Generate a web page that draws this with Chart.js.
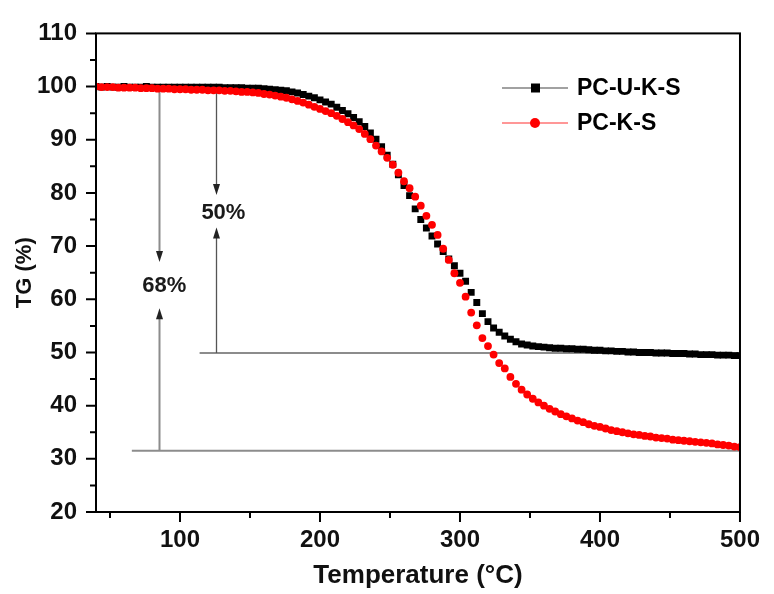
<!DOCTYPE html>
<html>
<head>
<meta charset="utf-8">
<script src="https://cdn.jsdelivr.net/npm/chart.js@4.4.1/dist/chart.umd.min.js"></script>
<style>
html,body{margin:0;padding:0;background:#fff;}
#wrap{width:774px;height:594px;}
</style>
</head>
<body>
<div id="wrap"><canvas id="c" width="774" height="594"></canvas></div>
<script>
// ---------- data ----------
const temperatures = [
  40,44,48,52,56,60,64,68,72,76,
  80,84,88,92,96,100,104,108,112,116,
  120,124,128,132,136,140,144,148,152,156,
  160,164,168,172,176,180,184,188,192,196,
  200,204,208,212,216,220,224,228,232,236,
  240,244,248,252,256,260,264,268,272,276,
  280,284,288,292,296,300,304,308,312,316,
  320,324,328,332,336,340,344,348,352,356,
  360,364,368,372,376,380,384,388,392,396,
  400,404,408,412,416,420,424,428,432,436,
  440,444,448,452,456,460,464,468,472,476,
  480,484,488,492,496,500
];
const pcUKS = [
  100.0,99.9,100.0,99.9,99.9,100.0,99.9,99.9,99.9,100.0,
  99.9,99.9,99.9,99.9,99.9,99.9,99.9,99.9,99.9,99.9,
  99.9,99.9,99.9,99.8,99.8,99.8,99.8,99.7,99.7,99.7,
  99.6,99.5,99.4,99.3,99.2,99.0,98.8,98.5,98.2,97.9,
  97.5,97.1,96.7,96.1,95.5,94.9,94.2,93.4,92.5,91.3,
  90.1,88.7,87.1,85.4,83.4,81.4,79.5,77.0,75.0,73.4,
  71.9,70.4,69.0,67.6,66.3,64.9,63.4,61.3,59.4,57.3,
  55.8,54.6,53.8,53.1,52.5,52.0,51.6,51.4,51.2,51.1,
  51.0,50.9,50.8,50.8,50.7,50.7,50.6,50.6,50.5,50.4,
  50.4,50.3,50.3,50.2,50.2,50.1,50.1,50.0,50.0,50.0,
  49.9,49.9,49.9,49.8,49.8,49.8,49.7,49.7,49.6,49.6,
  49.6,49.5,49.5,49.5,49.4,49.4
];
const pcKS = [
  100.0,99.9,99.9,99.9,99.8,99.8,99.8,99.8,99.7,99.7,
  99.7,99.6,99.6,99.6,99.5,99.5,99.5,99.4,99.4,99.4,
  99.3,99.3,99.3,99.2,99.2,99.1,99.0,99.0,98.9,98.8,
  98.6,98.5,98.3,98.1,97.9,97.6,97.3,97.0,96.6,96.2,
  95.8,95.4,95.0,94.5,93.9,93.3,92.7,92.0,91.1,90.1,
  88.9,87.8,86.6,85.3,83.8,82.2,80.9,79.3,77.6,75.7,
  74.0,72.1,69.5,67.4,64.9,63.1,60.5,57.5,55.1,52.7,
  51.2,49.6,48.0,47.0,45.4,44.1,43.0,42.1,41.3,40.6,
  40.0,39.4,38.9,38.4,38.0,37.6,37.2,36.9,36.5,36.2,
  36.0,35.7,35.4,35.2,35.0,34.8,34.6,34.5,34.3,34.2,
  34.0,33.9,33.8,33.6,33.5,33.4,33.3,33.2,33.1,33.0,
  32.9,32.7,32.6,32.5,32.3,32.2
];
const seriesNames = ['PC-U-K-S', 'PC-K-S'];
const xTickValues = [100, 200, 300, 400, 500];
const xMinorTickValues = [50, 150, 250, 350, 450];
const yTickValues = [20, 30, 40, 50, 60, 70, 80, 90, 100, 110];
const yMinorTickValues = [25, 35, 45, 55, 65, 75, 85, 95, 105];

// mass-loss annotations (data coordinates)
const lossLabels = ['50%', '68%'];
const lossLineTemp = [126, 85.3];      // vertical arrow position (°C)
const lossBaseLevel = [49.9, 31.5];    // horizontal residue line (%)
const lossBaseStart = [114, 65.6];     // horizontal line start (°C)
const lossTopLevel = [99.4, 99.5];     // vertical line top (%)
const lossDownTip = [79.6, 67.0];      // tip of down arrow (%)
const lossUpTip = [73.5, 58.3];        // tip of up arrow (%)
const lossLabelTemp = [131, 88.7];
const lossLabelLevel = [76.2, 62.6];

const FONT = "'Liberation Sans', Arial, Helvetica, sans-serif";

const decorPlugin = {
  id: 'decor',
  beforeDatasetsDraw(chart) {
    const {ctx, scales: {x, y}} = chart;
    ctx.save();
    for (let i = 0; i < lossLabels.length; i++) {
      ctx.strokeStyle = '#8c8c8c';
      ctx.lineWidth = 2;
      ctx.beginPath();
      ctx.moveTo(x.getPixelForValue(lossBaseStart[i]), y.getPixelForValue(lossBaseLevel[i]));
      ctx.lineTo(x.getPixelForValue(500), y.getPixelForValue(lossBaseLevel[i]));
      ctx.stroke();
      const px = Math.round(x.getPixelForValue(lossLineTemp[i])) + 0.5;
      ctx.strokeStyle = i === 0 ? '#555' : '#8c8c8c';
      ctx.lineWidth = i === 0 ? 1.3 : 2;
      const yTop = y.getPixelForValue(lossTopLevel[i]);
      const yDown = y.getPixelForValue(lossDownTip[i]);
      const yBase = y.getPixelForValue(lossBaseLevel[i]);
      const yUp = y.getPixelForValue(lossUpTip[i]);
      ctx.beginPath();
      ctx.moveTo(px, yTop); ctx.lineTo(px, yDown - 8);
      ctx.moveTo(px, yBase); ctx.lineTo(px, yUp + 8);
      ctx.stroke();
      ctx.fillStyle = '#222';
      ctx.beginPath();
      ctx.moveTo(px, yDown); ctx.lineTo(px - 3.5, yDown - 11); ctx.lineTo(px + 3.5, yDown - 11); ctx.closePath();
      ctx.fill();
      ctx.beginPath();
      ctx.moveTo(px, yUp); ctx.lineTo(px - 3.5, yUp + 11); ctx.lineTo(px + 3.5, yUp + 11); ctx.closePath();
      ctx.fill();
      ctx.fillStyle = '#1a1a1a';
      ctx.font = 'bold 22px ' + FONT;
      ctx.textAlign = 'center';
      ctx.textBaseline = 'middle';
      ctx.fillText(lossLabels[i], x.getPixelForValue(lossLabelTemp[i]), y.getPixelForValue(lossLabelLevel[i]));
    }
    ctx.restore();
  },
  afterDraw(chart) {
    const {ctx, chartArea: a, scales: {x, y}} = chart;
    ctx.save();
    ctx.strokeStyle = '#000';
    ctx.lineWidth = 2;
    ctx.strokeRect(a.left, a.top, a.right - a.left, a.bottom - a.top);
    ctx.beginPath();
    xTickValues.forEach(v => { const p = x.getPixelForValue(v); ctx.moveTo(p, a.bottom); ctx.lineTo(p, a.bottom + 10); });
    xMinorTickValues.forEach(v => { const p = x.getPixelForValue(v); ctx.moveTo(p, a.bottom); ctx.lineTo(p, a.bottom + 6); });
    yTickValues.forEach(v => { const p = y.getPixelForValue(v); ctx.moveTo(a.left, p); ctx.lineTo(a.left - 10, p); });
    yMinorTickValues.forEach(v => { const p = y.getPixelForValue(v); ctx.moveTo(a.left, p); ctx.lineTo(a.left - 6, p); });
    ctx.stroke();
    const rows = [
      {name: seriesNames[0], line: '#444', fill: '#000', style: 'rect', y: 88},
      {name: seriesNames[1], line: '#ff3030', fill: '#ff0000', style: 'circle', y: 123}
    ];
    rows.forEach(r => {
      ctx.strokeStyle = r.line;
      ctx.lineWidth = 1.2;
      ctx.beginPath(); ctx.moveTo(502, r.y); ctx.lineTo(568, r.y); ctx.stroke();
      ctx.fillStyle = r.fill;
      if (r.style === 'rect') { ctx.fillRect(531, r.y - 4.5, 9, 9); }
      else { ctx.beginPath(); ctx.arc(535, r.y, 5, 0, Math.PI * 2); ctx.fill(); }
      ctx.fillStyle = '#000';
      ctx.font = 'bold 23px ' + FONT;
      ctx.textAlign = 'left';
      ctx.textBaseline = 'middle';
      ctx.fillText(r.name, 577, r.y + 1);
    });
    ctx.restore();
  }
};

new Chart(document.getElementById('c'), {
  type: 'scatter',
  data: {
    datasets: [
      {
        label: seriesNames[0],
        data: temperatures.map((t, i) => ({x: t, y: pcUKS[i]})),
        pointStyle: 'rect',
        pointRadius: 4.9,
        pointBackgroundColor: '#000',
        pointBorderWidth: 0,
        borderColor: '#000',
        showLine: false,
        order: 2
      },
      {
        label: seriesNames[1],
        data: temperatures.map((t, i) => ({x: t, y: pcKS[i]})),
        pointStyle: 'circle',
        pointRadius: 3.9,
        pointBackgroundColor: '#ff0000',
        pointBorderWidth: 0,
        borderColor: '#ff0000',
        showLine: false,
        order: 1
      }
    ]
  },
  options: {
    responsive: false,
    animation: false,
    devicePixelRatio: 1,
    layout: {padding: {left: 0, right: 29, top: 26, bottom: 0}},
    plugins: {legend: {display: false}, tooltip: {enabled: false}},
    scales: {
      x: {
        type: 'linear',
        min: 40, max: 500,
        afterBuildTicks: s => { s.ticks = xTickValues.map(v => ({value: v})); },
        afterFit: s => { s.height = 82; },
        grid: {display: false, drawTicks: false},
        border: {display: false},
        ticks: {autoSkip: false, maxRotation: 0, padding: 14, color: '#111',
                font: {family: FONT, size: 24, weight: 'bold'}},
        title: {display: true, text: 'Temperature (°C)', color: '#111',
                font: {family: FONT, size: 26, weight: 'bold'}, padding: {top: 0, bottom: 3}}
      },
      y: {
        type: 'linear',
        min: 20, max: 110,
        afterBuildTicks: s => { s.ticks = yTickValues.map(v => ({value: v})); },
        afterFit: s => { s.width = 96; },
        grid: {display: false, drawTicks: false},
        border: {display: false},
        ticks: {autoSkip: false, padding: 19, color: '#111',
                font: {family: FONT, size: 24, weight: 'bold'}},
        title: {display: true, text: 'TG (%)', color: '#111',
                font: {family: FONT, size: 22, weight: 'bold'}, padding: {top: 12, bottom: 0}}
      }
    }
  },
  plugins: [decorPlugin]
});
</script>
</body>
</html>
